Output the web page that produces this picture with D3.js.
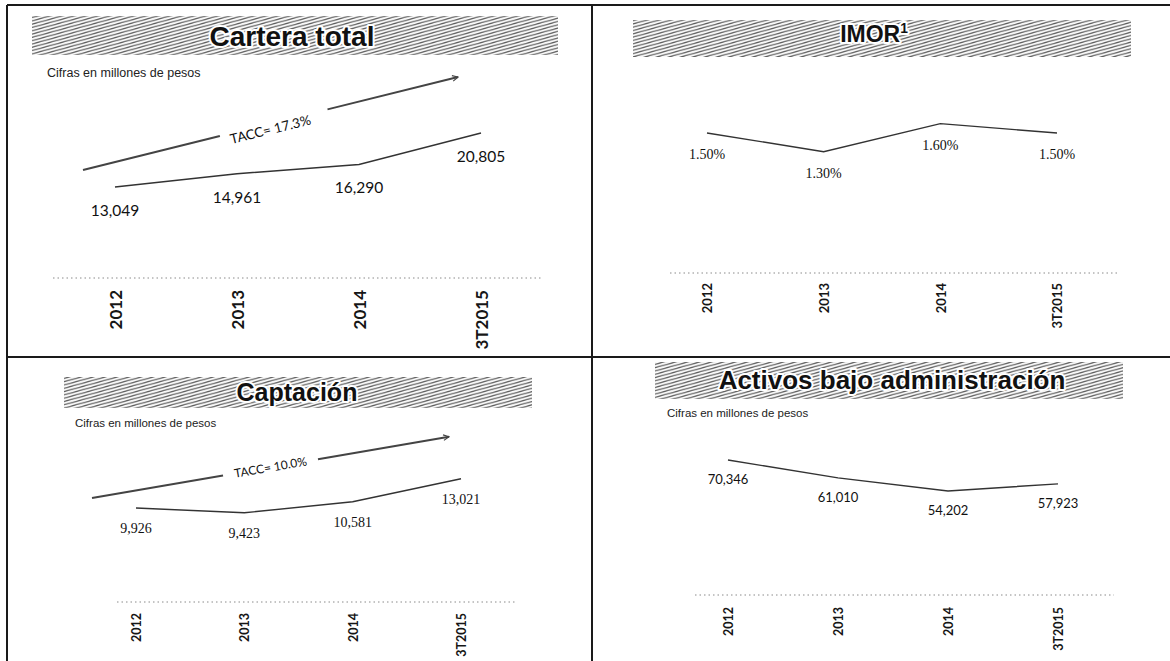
<!DOCTYPE html>
<html>
<head>
<meta charset="utf-8">
<script src="https://cdn.jsdelivr.net/npm/d3@7"></script>
<style>
  html, body { margin: 0; padding: 0; background: #fff; }
  svg { display: block; }
</style>
</head>
<body>
<svg id="chart" width="1170" height="661"></svg>
<script>
// ---------------- DATA ----------------
const categories = ["2012", "2013", "2014", "3T2015"];
const carteraValues = [13049, 14961, 16290, 20805];
const imorValues = [1.50, 1.30, 1.60, 1.50];
const captacionValues = [9926, 9423, 10581, 13021];
const activosValues = [70346, 61010, 54202, 57923];
const panelTitles = ["Cartera total", "IMOR", "Captación", "Activos bajo administración"];
const subtitleText = "Cifras en millones de pesos";
const taccLabels = ["TACC= 17.3%", "TACC= 10.0%"];
const imorFootnote = "1";

// ---------------- LAYOUT ----------------
const svg = d3.select("#chart");
const W = 1170, H = 661;

const defs = svg.append("defs");
const pw = 12, ph = 3.3;
const pat = defs.append("pattern")
  .attr("id", "hatch")
  .attr("patternUnits", "userSpaceOnUse")
  .attr("width", pw).attr("height", ph);
pat.append("rect").attr("width", pw).attr("height", ph).attr("fill", "#fafafa");
[[0, ph, pw, 0], [-pw, ph, 0, 0], [pw, ph, 2 * pw, 0], [0, 2 * ph, pw, ph], [0, 0, pw, -ph]].forEach(c => {
  pat.append("line")
    .attr("x1", c[0]).attr("y1", c[1]).attr("x2", c[2]).attr("y2", c[3])
    .attr("stroke", "#5c5c5c").attr("stroke-width", 1.15);
});

defs.append("marker")
  .attr("id", "arrowhead")
  .attr("viewBox", "0 0 10 10")
  .attr("refX", 9).attr("refY", 5)
  .attr("markerWidth", 7).attr("markerHeight", 7)
  .attr("markerUnits", "userSpaceOnUse")
  .attr("orient", "auto")
  .append("path").attr("d", "M1,1 L9,5 L1,9")
  .attr("fill", "none").attr("stroke", "#444").attr("stroke-width", 1.6);

// frame lines
const frame = svg.append("g").attr("stroke", "#1a1a1a").attr("stroke-width", 2);
frame.append("line").attr("x1", 7).attr("x2", W).attr("y1", 5).attr("y2", 5);
frame.append("line").attr("x1", 7).attr("x2", 7).attr("y1", 5).attr("y2", H);
frame.append("line").attr("x1", 592).attr("x2", 592).attr("y1", 5).attr("y2", H);
frame.append("line").attr("x1", 7).attr("x2", W).attr("y1", 357).attr("y2", 357);

const fmtInt = d3.format(",");
const fmtPct = v => d3.format(".2f")(v) + "%";

const panels = [
  {
    title: panelTitles[0], values: carteraValues, fmt: fmtInt,
    band: [32, 16, 558, 55], titleX: 292, titleY: 46, titleSize: 28,
    sub: [47, 77, 12.5],
    xRange: [115, 481], yDomain: [0, 25000], axisY: 278, yTop: 278 - 145 * 25000 / 20805,
    axisExt: [53, 543], tickTop: 290, tickSize: 17,
    labelOff: 29, labelFont: "Lato, 'Open Sans', sans-serif", labelSize: 15.5,
    arrow: { d0: [-32, -17], d1: [-23, -56], gap: [0.365, 0.652], text: taccLabels[0], size: 13.5, off: 6 }
  },
  {
    title: panelTitles[1], values: imorValues, fmt: fmtPct, sup: imorFootnote,
    band: [633, 20, 1131, 57], titleX: 874, titleY: 42, titleSize: 23,
    sub: null,
    xRange: [707, 1057], yDomain: [0, 2], axisY: 273, yTop: 273 - 140 * 2 / 1.5,
    axisExt: [670, 1117], tickTop: 283, tickSize: 13,
    labelOff: 26, labelFont: "'Liberation Serif', serif", labelSize: 14,
    arrow: null
  },
  {
    title: panelTitles[2], values: captacionValues, fmt: fmtInt,
    band: [64, 377, 532, 408], titleX: 297, titleY: 401, titleSize: 25,
    sub: [75, 427, 11.5],
    xRange: [136, 461], yDomain: [0, 15000], axisY: 602, yTop: 602 - 123.3 * 15000 / 13021,
    axisExt: [117, 515], tickTop: 613, tickSize: 12.5,
    labelOff: 25, labelFont: "'Liberation Serif', serif", labelSize: 14,
    arrow: { d0: [-44, -10], d1: [-12, -42], gap: [0.367, 0.633], text: taccLabels[1], size: 12, off: 0 }
  },
  {
    title: panelTitles[3], values: activosValues, fmt: fmtInt,
    band: [655, 362, 1123, 399], titleX: 892, titleY: 389, titleSize: 26,
    sub: [667, 417, 11.5],
    xRange: [728, 1058], yDomain: [0, 80000], axisY: 595, yTop: 595 - 135 * 80000 / 70346,
    axisExt: [695, 1114], tickTop: 607, tickSize: 12.5,
    labelOff: 24, labelFont: "Lato, 'Open Sans', sans-serif", labelSize: 13,
    arrow: null
  }
];

panels.forEach(p => {
  const g = svg.append("g");

  // title band
  g.append("rect")
    .attr("x", p.band[0]).attr("y", p.band[1])
    .attr("width", p.band[2] - p.band[0]).attr("height", p.band[3] - p.band[1])
    .attr("fill", "url(#hatch)");

  const t = g.append("text")
    .attr("x", p.titleX).attr("y", p.titleY)
    .attr("text-anchor", "middle")
    .attr("font-family", "'Liberation Sans', Arial, sans-serif")
    .attr("font-weight", "bold")
    .attr("font-size", p.titleSize)
    .attr("fill", "#111")
    .attr("stroke", "#fff").attr("stroke-width", 4)
    .attr("paint-order", "stroke")
    .attr("stroke-linejoin", "round")
    .text(p.title);
  if (p.sup) {
    t.append("tspan").attr("font-size", p.titleSize * 0.6).attr("dy", -p.titleSize * 0.38).text(p.sup);
  }

  if (p.sub) {
    g.append("text")
      .attr("x", p.sub[0]).attr("y", p.sub[1])
      .attr("font-family", "'Liberation Sans', Arial, sans-serif")
      .attr("font-size", p.sub[2])
      .attr("fill", "#222")
      .text(subtitleText);
  }

  const x = d3.scalePoint().domain(categories).range(p.xRange);
  const y = d3.scaleLinear().domain(p.yDomain).range([p.axisY, p.yTop]);

  // dotted baseline
  g.append("line")
    .attr("x1", p.axisExt[0]).attr("x2", p.axisExt[1])
    .attr("y1", p.axisY).attr("y2", p.axisY)
    .attr("stroke", "#8a8a8a").attr("stroke-width", 1)
    .attr("stroke-dasharray", "1.5,3");

  // axis labels
  const axis = g.append("g")
    .attr("transform", `translate(0,${p.axisY})`)
    .call(d3.axisBottom(x).tickSize(0).tickSizeOuter(0));
  axis.select(".domain").remove();
  axis.selectAll("text")
    .attr("transform", "rotate(-90)")
    .attr("x", -(p.tickTop - p.axisY))
    .attr("y", 0)
    .attr("dy", "0.36em")
    .attr("text-anchor", "end")
    .attr("font-family", "Lato, 'Open Sans', sans-serif")
    .attr("font-weight", "bold")
    .attr("font-size", p.tickSize)
    .attr("fill", "#161616");

  // line
  const line = d3.line().x((d, i) => x(categories[i])).y(d => y(d));
  g.append("path")
    .datum(p.values)
    .attr("d", line)
    .attr("fill", "none")
    .attr("stroke", "#333")
    .attr("stroke-width", 1.4);

  // value labels
  g.selectAll(".vlabel")
    .data(p.values)
    .join("text")
    .attr("class", "vlabel")
    .attr("x", (d, i) => x(categories[i]))
    .attr("y", d => y(d) + p.labelOff)
    .attr("text-anchor", "middle")
    .attr("font-family", p.labelFont)
    .attr("font-size", p.labelSize)
    .attr("fill", "#111")
    .text(d => p.fmt(d));

  // TACC arrow
  if (p.arrow) {
    const a = p.arrow;
    const n = p.values.length - 1;
    const s = [x(categories[0]) + a.d0[0], y(p.values[0]) + a.d0[1]];
    const e = [x(categories[n]) + a.d1[0], y(p.values[n]) + a.d1[1]];
    const lerp = tt => [s[0] + (e[0] - s[0]) * tt, s[1] + (e[1] - s[1]) * tt];
    const g0 = lerp(a.gap[0]), g1 = lerp(a.gap[1]);
    g.append("line")
      .attr("x1", s[0]).attr("y1", s[1]).attr("x2", g0[0]).attr("y2", g0[1])
      .attr("stroke", "#444").attr("stroke-width", 2);
    g.append("line")
      .attr("x1", g1[0]).attr("y1", g1[1]).attr("x2", e[0]).attr("y2", e[1])
      .attr("stroke", "#444").attr("stroke-width", 2)
      .attr("marker-end", "url(#arrowhead)");
    const mid = lerp(0.5);
    const ang = Math.atan2(e[1] - s[1], e[0] - s[0]) * 180 / Math.PI;
    g.append("text")
      .attr("transform", `translate(${mid[0]},${mid[1] + a.off}) rotate(${ang})`)
      .attr("text-anchor", "middle")
      .attr("dy", "0.35em")
      .attr("font-family", "Lato, 'Open Sans', sans-serif")
      .attr("font-size", a.size)
      .attr("fill", "#111")
      .text(a.text);
  }
});
</script>
</body>
</html>
